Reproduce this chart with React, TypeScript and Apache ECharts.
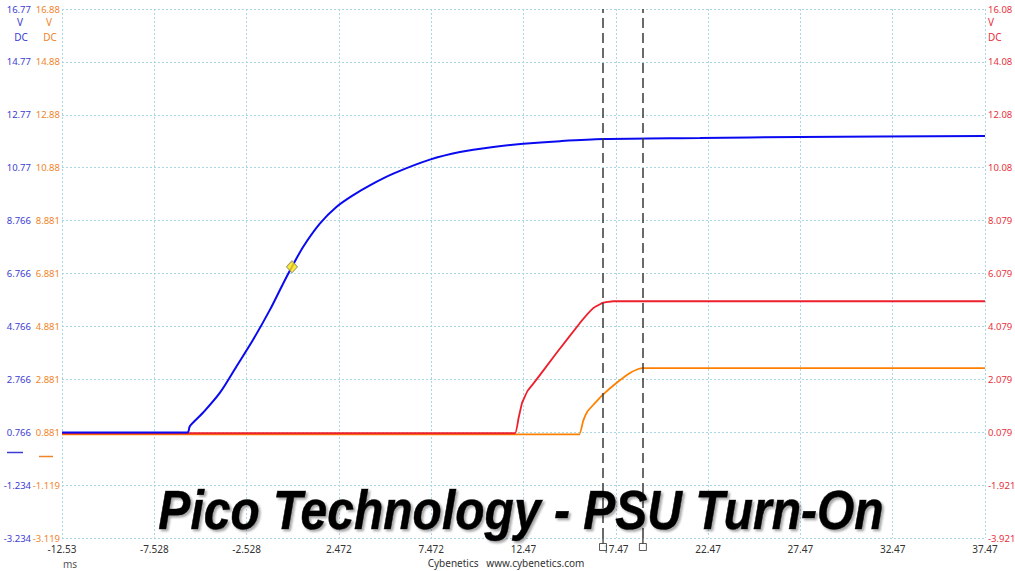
import React, { useEffect, useRef } from "react";
import * as echarts from "echarts";

// ---- Data (time in ms, volts in each channel's own scale) ----
const xTicks = ["-12.53", "-7.528", "-2.528", "2.472", "7.472", "12.47", "17.47", "22.47", "27.47", "32.47", "37.47"];
const blueTicks = ["-3.234", "-1.234", "0.766", "2.766", "4.766", "6.766", "8.766", "10.77", "12.77", "14.77", "16.77"];
const orangeTicks = ["-3.119", "-1.119", "0.881", "2.881", "4.881", "6.881", "8.881", "10.88", "12.88", "14.88", "16.88"];
const redTicks = ["-3.921", "-1.921", "0.079", "2.079", "4.079", "6.079", "8.079", "10.08", "12.08", "14.08", "16.08"];

const timeMin = -12.528;
const timeMax = 37.472;
const blueRange = [-3.234, 16.766];
const orangeRange = [-3.119, 16.881];
const redRange = [-3.921, 16.079];

const blueT = [-12.528, -5.74, -5.6, -4.88, -3.97, -3.07, -2.17, -1.26, -0.54, -0.07, 0.54, 1.45, 2.35, 3.25, 4.15, 5.42, 7.4, 9.03, 10.83, 12.46, 14.45, 16.79, 22.03, 27.45, 37.472];
const blueV = [0.75, 0.75, 1.0, 1.51, 2.26, 3.26, 4.27, 5.4, 6.4, 7.02, 7.78, 8.66, 9.29, 9.73, 10.1, 10.54, 11.07, 11.36, 11.55, 11.67, 11.77, 11.85, 11.89, 11.93, 11.96];

const redT = [-12.528, 12.01, 12.2, 12.4, 12.7, 13.1, 14.27, 15.53, 16.25, 16.79, 17.33, 37.472];
const redV = [0.04, 0.04, 0.6, 1.2, 1.65, 2.0, 3.08, 4.21, 4.77, 4.98, 5.03, 5.03];

const orangeT = [-12.528, 15.49, 15.7, 15.95, 16.3, 16.79, 17.52, 18.24, 18.69, 18.96, 37.472];
const orangeV = [0.8, 0.8, 1.3, 1.68, 1.95, 2.31, 2.75, 3.12, 3.27, 3.3, 3.3];

const cursorTimes = [16.78, 18.94];
const markerPoint = [-0.07, 7.02];

const titleText = "Pico Technology - PSU Turn-On";
const footerText = "Cybenetics   www.cybenetics.com";
const unitX = "ms";

const BLUE = "#0a0af0";
const RED = "#ee1f2d";
const ORANGE = "#ff8000";
const BLUE_LBL = "#3c3cd2";
const ORANGE_LBL = "#f0842a";
const RED_LBL = "#e8303c";
const GRID = "#a9d6e2";
const FONT = "'Noto Sans', 'Open Sans', sans-serif";

const zip = (a: number[], b: number[]) => a.map((v, i) => [v, b[i]]);

export default function App() {
  const ref = useRef<HTMLDivElement>(null);
  useEffect(() => {
    if (!ref.current) return;
    const chart = echarts.init(ref.current, null, { renderer: "svg" });
    const labelAxis = (ticks: string[], color: string, position: string, offset: number, margin: number, split: boolean) => ({
      type: "value",
      min: 0,
      max: 10,
      interval: 1,
      position,
      offset,
      axisLine: { show: false },
      axisTick: { show: false },
      splitLine: { show: split, lineStyle: { color: GRID, type: [2, 2], width: 1 } },
      axisLabel: {
        show: true,
        showMinLabel: true,
        showMaxLabel: true,
        hideOverlap: false,
        margin,
        color,
        fontSize: 9.5,
        fontFamily: FONT,
        formatter: (v: number) => ticks[Math.round(v)] ?? "",
      },
    });
    const option: any = {
      animation: false,
      backgroundColor: "#ffffff",
      grid: { left: 62, top: 9, width: 923, height: 529, containLabel: false, outerBoundsMode: "none" },
      xAxis: [
        { type: "value", min: timeMin, max: timeMax, show: false },
        {
          type: "value",
          min: 0,
          max: 10,
          interval: 1,
          position: "bottom",
          axisLine: { show: false },
          axisTick: { show: false },
          splitLine: { show: true, lineStyle: { color: GRID, type: [2, 2], width: 1 } },
          axisLabel: {
            showMinLabel: true,
            showMaxLabel: true,
            margin: 6,
            color: "#333",
            fontSize: 10,
            fontFamily: FONT,
            formatter: (v: number) => xTicks[Math.round(v)] ?? "",
          },
        },
      ],
      yAxis: [
        { type: "value", min: blueRange[0], max: blueRange[1], show: false },
        { type: "value", min: orangeRange[0], max: orangeRange[1], show: false },
        { type: "value", min: redRange[0], max: redRange[1], show: false },
        labelAxis(blueTicks, BLUE_LBL, "left", 29, 2, false),
        labelAxis(orangeTicks, ORANGE_LBL, "left", 0, 2, true),
        labelAxis(redTicks, RED_LBL, "right", 0, 3, false),
      ],
      series: [
        {
          type: "line",
          xAxisIndex: 0,
          yAxisIndex: 1,
          data: zip(orangeT, orangeV),
          showSymbol: false,
          smooth: 0.1,
          lineStyle: { color: ORANGE, width: 1.8 },
          z: 2,
        },
        {
          type: "line",
          xAxisIndex: 0,
          yAxisIndex: 2,
          data: zip(redT, redV),
          showSymbol: false,
          smooth: 0.1,
          lineStyle: { color: RED, width: 1.8 },
          z: 3,
        },
        {
          type: "line",
          xAxisIndex: 0,
          yAxisIndex: 0,
          data: zip(blueT, blueV),
          showSymbol: false,
          smooth: 0.3,
          lineStyle: { color: BLUE, width: 2 },
          z: 4,
        },
        {
          type: "scatter",
          xAxisIndex: 0,
          yAxisIndex: 0,
          clip: false,
          data: cursorTimes.map((t) => [t, blueRange[0]]),
          symbol: "rect",
          symbolSize: [1.6, 6],
          symbolOffset: [0, 3],
          itemStyle: { color: "#3a3a3a" },
          z: 5,
          markLine: {
            silent: true,
            symbol: ["none", "none"],
            label: { show: false },
            lineStyle: { color: "#3a3a3a", width: 1.5, type: [10, 5] },
            data: cursorTimes.map((t) => ({ xAxis: t })),
          },
        },
        {
          type: "scatter",
          xAxisIndex: 0,
          yAxisIndex: 0,
          clip: false,
          data: cursorTimes.map((t) => [t, blueRange[0]]),
          symbol: "rect",
          symbolSize: 7,
          symbolOffset: [0, 9],
          itemStyle: { color: "#ffffff", borderColor: "#333", borderWidth: 1 },
          z: 6,
        },
        {
          type: "scatter",
          xAxisIndex: 0,
          yAxisIndex: 0,
          data: [markerPoint],
          symbol: "diamond",
          symbolSize: [11, 12],
          itemStyle: { color: "#ffe600", borderColor: "#8a8a6a", borderWidth: 1 },
          z: 7,
        },
      ],
      graphic: [
        { type: "text", x: 20, y: 22, style: { text: "V", fill: BLUE_LBL, font: `10px ${FONT}`, textAlign: "center", textVerticalAlign: "middle" } },
        { type: "text", x: 21, y: 37, style: { text: "DC", fill: BLUE_LBL, font: `10px ${FONT}`, textAlign: "center", textVerticalAlign: "middle" } },
        { type: "text", x: 49, y: 22, style: { text: "V", fill: ORANGE_LBL, font: `10px ${FONT}`, textAlign: "center", textVerticalAlign: "middle" } },
        { type: "text", x: 50, y: 37, style: { text: "DC", fill: ORANGE_LBL, font: `10px ${FONT}`, textAlign: "center", textVerticalAlign: "middle" } },
        { type: "text", x: 988, y: 22, style: { text: "V", fill: RED_LBL, font: `10px ${FONT}`, textAlign: "left", textVerticalAlign: "middle" } },
        { type: "text", x: 988, y: 37, style: { text: "DC", fill: RED_LBL, font: `10px ${FONT}`, textAlign: "left", textVerticalAlign: "middle" } },
        { type: "line", shape: { x1: 7, y1: 452.5, x2: 23, y2: 452.5 }, style: { stroke: BLUE_LBL, lineWidth: 1.5 } },
        { type: "line", shape: { x1: 39, y1: 456.5, x2: 53, y2: 456.5 }, style: { stroke: ORANGE_LBL, lineWidth: 1.5 } },
        { type: "text", x: 63, y: 564, style: { text: unitX, fill: "#555", font: `10px ${FONT}`, textAlign: "left", textVerticalAlign: "middle" } },
        { type: "text", x: 506, y: 563, style: { text: footerText, fill: "#333", font: `10px ${FONT}`, textAlign: "center", textVerticalAlign: "middle" } },
        {
          type: "text",
          x: 521,
          y: 510,
          scaleY: 1.15,
          z: 100,
          style: {
            text: titleText,
            x: 0,
            y: 0,
            textAlign: "center",
            textVerticalAlign: "middle",
            font: "italic bold 48px 'Liberation Sans', Arial, sans-serif",
            fill: new echarts.graphic.LinearGradient(0, 0, 1, 1, [
              { offset: 0, color: "#000000" },
              { offset: 0.45, color: "#3a3a3a" },
              { offset: 0.7, color: "#7a7a7a" },
              { offset: 1, color: "#1a1a1a" },
            ]),
            stroke: "#444",
            lineWidth: 0.6,
            textShadowColor: "rgba(0,0,0,0.35)",
            textShadowOffsetX: 2,
            textShadowOffsetY: 2,
            textShadowBlur: 2,
          },
        },
      ],
    };
    chart.setOption(option);
    return () => chart.dispose();
  }, []);
  return (
    <div
      ref={ref}
      style={{ position: "fixed", left: 0, top: 0, width: 1015, height: 571, background: "#fff" }}
    />
  );
}
